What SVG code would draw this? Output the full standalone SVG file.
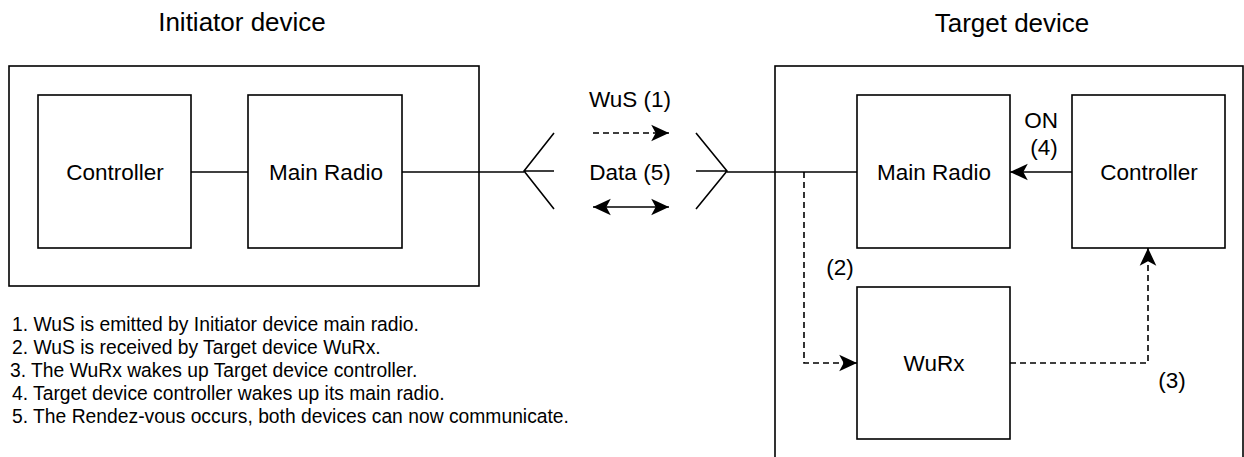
<svg xmlns="http://www.w3.org/2000/svg" width="1244" height="457" viewBox="0 0 1244 457">
  <style>
    .box { fill: #ffffff; stroke: #000000; stroke-width: 1.6; }
    .frame { fill: none; stroke: #000000; stroke-width: 1.6; }
    .wire { fill: none; stroke: #000000; stroke-width: 1.6; }
    .dash { fill: none; stroke: #000000; stroke-width: 1.6; stroke-dasharray: 6 4; }
    .lbl { font-family: "Liberation Sans", Arial, sans-serif; font-size: 22.5px; fill: #000000; text-anchor: middle; }
    .title { font-family: "Liberation Sans", Arial, sans-serif; font-size: 26px; fill: #000000; text-anchor: middle; }
    .note { font-family: "Liberation Sans", Arial, sans-serif; font-size: 19.3px; fill: #000000; }
  </style>
  <defs>
    <marker id="arrow" markerUnits="userSpaceOnUse" markerWidth="20" markerHeight="20" refX="0" refY="0" viewBox="-17 -9 18 18" orient="auto-start-reverse">
      <path d="M0,0 L-16,-7.5 L-12,0 L-16,7.5 Z" fill="#000000" stroke="none"/>
    </marker>
  </defs>

  <rect width="1244" height="457" fill="#ffffff"/>

  <!-- device frames -->
  <g id="initiator-device">
    <rect class="frame" x="9" y="66" width="470" height="220"/>
    <text class="title" x="242" y="31">Initiator device</text>
  </g>
  <g id="target-device">
    <rect class="frame" x="775" y="66" width="468" height="410"/>
    <text class="title" x="1012" y="32">Target device</text>
  </g>

  <!-- connectors -->
  <g id="connectors">
    <line class="wire" x1="191" y1="172" x2="248" y2="172"/>
    <line class="wire" x1="402" y1="172" x2="524" y2="172"/>
    <!-- initiator antenna -->
    <path class="wire" d="M554,133 L524,171 L554,209 M524,171 L554,171"/>
    <!-- target antenna -->
    <path class="wire" d="M696,133 L727,171 L696,209 M696,171 L727,171"/>
    <line class="wire" x1="727" y1="172" x2="857" y2="172"/>
    <!-- air links -->
    <line class="dash" x1="593" y1="133" x2="669" y2="133" marker-end="url(#arrow)"/>
    <line class="wire" x1="593" y1="207" x2="669" y2="207" marker-start="url(#arrow)" marker-end="url(#arrow)"/>
    <!-- controller turns main radio on -->
    <line class="wire" x1="1072" y1="172" x2="1010" y2="172" marker-end="url(#arrow)"/>
    <!-- wake-up path -->
    <polyline class="dash" points="804,172 804,363 857,363" marker-end="url(#arrow)"/>
    <polyline class="dash" points="1010,363 1148,363 1148,248" marker-end="url(#arrow)"/>
    <text class="lbl" x="630" y="107">WuS (1)</text>
    <text class="lbl" x="630" y="180">Data (5)</text>
    <text class="lbl" x="1041" y="128">ON</text>
    <text class="lbl" x="1044" y="155">(4)</text>
    <text class="lbl" x="840" y="275">(2)</text>
    <text class="lbl" x="1172" y="388">(3)</text>
  </g>

  <!-- initiator nodes -->
  <g id="init-controller">
    <rect class="box" x="38" y="95" width="153" height="153"/>
    <text class="lbl" x="115" y="180">Controller</text>
  </g>
  <g id="init-main-radio">
    <rect class="box" x="248" y="95" width="154" height="153"/>
    <text class="lbl" x="326" y="180">Main Radio</text>
  </g>

  <!-- target nodes -->
  <g id="target-main-radio">
    <rect class="box" x="857" y="95" width="153" height="153"/>
    <text class="lbl" x="934" y="180">Main Radio</text>
  </g>
  <g id="target-controller">
    <rect class="box" x="1072" y="95" width="153" height="153"/>
    <text class="lbl" x="1149" y="180">Controller</text>
  </g>
  <g id="target-wurx">
    <rect class="box" x="857" y="287" width="153" height="152"/>
    <text class="lbl" x="934" y="371">WuRx</text>
  </g>

  <!-- numbered steps -->
  <g id="steps">
    <text class="note" x="12" y="331">1. WuS is emitted by Initiator device main radio.</text>
    <text class="note" x="12" y="354">2. WuS is received by Target device WuRx.</text>
    <text class="note" x="10" y="377">3. The WuRx wakes up Target device controller.</text>
    <text class="note" x="12" y="399.5">4. Target device controller wakes up its main radio.</text>
    <text class="note" x="12" y="422.5">5. The Rendez-vous occurs, both devices can now communicate.</text>
  </g>
</svg>
